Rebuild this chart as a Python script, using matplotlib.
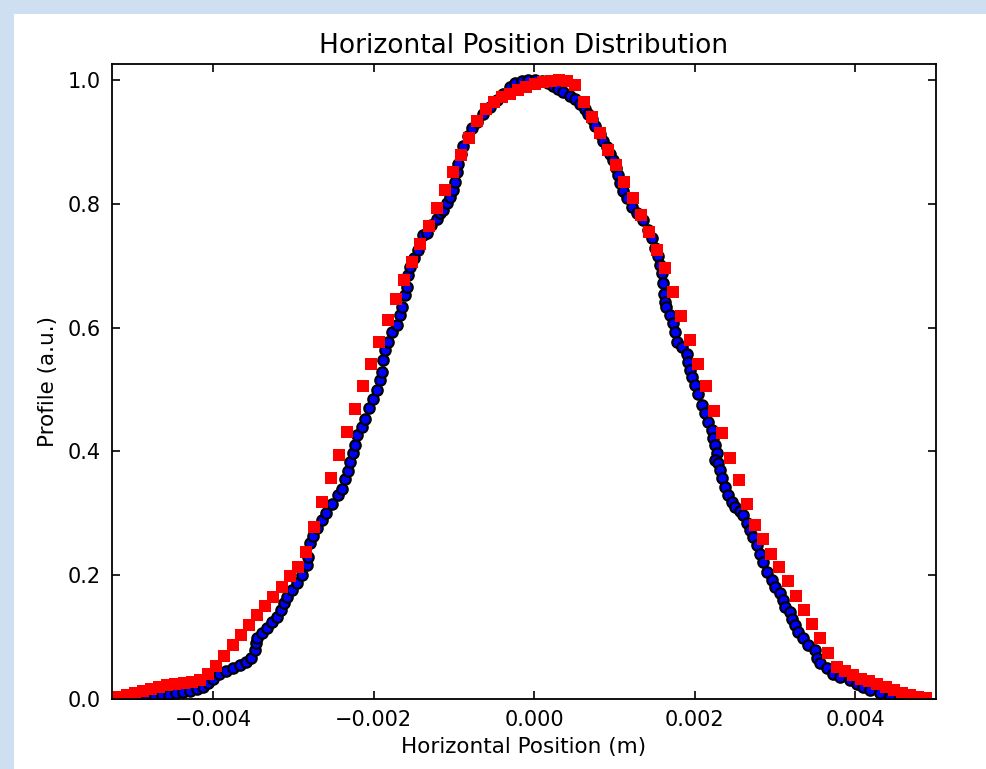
import numpy as np
import matplotlib
matplotlib.use('Agg')
import matplotlib.pyplot as plt
from matplotlib.patches import Rectangle

# measured profile (blue), position in mm
meas_x_mm = [-5.159, -5.072, -4.984, -4.897, -4.810, -4.723, -4.636, -4.548, -4.461, -4.374,
             -4.287, -4.199, -4.125, -4.062, -4.000, -3.925, -3.838, -3.751, -3.664, -3.589,
             -3.526, -3.477, -3.464, -3.452, -3.389, -3.327, -3.265, -3.202, -3.153, -3.115,
             -3.078, -3.016, -2.953, -2.891, -2.835, -2.812, -2.791, -2.750, -2.708, -2.645,
             -2.592, -2.521, -2.439, -2.396, -2.355, -2.321, -2.293, -2.252, -2.231, -2.202,
             -2.147, -2.106, -2.052, -2.002, -1.960, -1.919, -1.898, -1.878, -1.857, -1.816,
             -1.773, -1.711, -1.670, -1.649, -1.607, -1.586, -1.566, -1.545, -1.495, -1.442,
             -1.379, -1.337, -1.283, -1.212, -1.171, -1.130, -1.088, -1.047, -1.006, -0.984,
             -0.963, -0.943, -0.913, -0.881, -0.819, -0.776, -0.714, -0.632, -0.548, -0.465,
             -0.383, -0.299, -0.237, -0.153, -0.075, 0.012, 0.096, 0.178, 0.240, 0.303,
             0.365, 0.449, 0.511, 0.573, 0.636, 0.677, 0.719, 0.760, 0.822, 0.864,
             0.906, 0.947, 0.988, 1.022, 1.050, 1.072, 1.113, 1.155, 1.217, 1.280,
             1.362, 1.424, 1.467, 1.508, 1.549, 1.570, 1.591, 1.611, 1.615, 1.632,
             1.640, 1.695, 1.736, 1.757, 1.778, 1.840, 1.903, 1.923, 1.944, 1.965,
             2.006, 2.047, 2.090, 2.131, 2.172, 2.214, 2.234, 2.255, 2.277, 2.260,
             2.297, 2.318, 2.339, 2.380, 2.421, 2.464, 2.505, 2.567, 2.608, 2.650,
             2.692, 2.733, 2.775, 2.816, 2.857, 2.900, 2.962, 3.003, 3.065, 3.107,
             3.128, 3.190, 3.211, 3.252, 3.293, 3.356, 3.418, 3.502, 3.523, 3.564,
             3.647, 3.730, 3.813, 3.938, 4.021, 4.103, 4.187, 4.312, 4.436, 4.561,
             4.685, 4.810]
meas_y = [0.000, 0.001, 0.002, 0.003, 0.004, 0.005, 0.006, 0.007, 0.009, 0.011,
          0.013, 0.016, 0.020, 0.026, 0.033, 0.040, 0.046, 0.050, 0.055, 0.060,
          0.067, 0.079, 0.090, 0.099, 0.106, 0.114, 0.124, 0.133, 0.144, 0.155,
          0.165, 0.176, 0.187, 0.200, 0.216, 0.230, 0.252, 0.263, 0.276, 0.289,
          0.301, 0.315, 0.330, 0.340, 0.355, 0.369, 0.383, 0.398, 0.410, 0.426,
          0.440, 0.453, 0.470, 0.484, 0.500, 0.515, 0.529, 0.548, 0.564, 0.577,
          0.593, 0.604, 0.620, 0.634, 0.653, 0.666, 0.685, 0.698, 0.712, 0.725,
          0.750, 0.753, 0.765, 0.776, 0.785, 0.790, 0.801, 0.811, 0.822, 0.836,
          0.851, 0.865, 0.880, 0.894, 0.909, 0.923, 0.933, 0.945, 0.956, 0.967,
          0.978, 0.988, 0.995, 0.999, 1.000, 1.000, 0.998, 0.995, 0.990, 0.985,
          0.980, 0.975, 0.969, 0.961, 0.953, 0.945, 0.937, 0.926, 0.913, 0.902,
          0.891, 0.881, 0.870, 0.858, 0.846, 0.833, 0.820, 0.809, 0.795, 0.785,
          0.774, 0.758, 0.744, 0.728, 0.715, 0.701, 0.688, 0.672, 0.655, 0.642,
          0.634, 0.620, 0.607, 0.593, 0.577, 0.569, 0.558, 0.545, 0.532, 0.521,
          0.507, 0.493, 0.475, 0.462, 0.448, 0.435, 0.421, 0.410, 0.397, 0.386,
          0.381, 0.370, 0.357, 0.343, 0.330, 0.319, 0.311, 0.303, 0.297, 0.284,
          0.273, 0.262, 0.249, 0.235, 0.222, 0.206, 0.192, 0.181, 0.171, 0.160,
          0.149, 0.141, 0.130, 0.120, 0.109, 0.098, 0.087, 0.079, 0.066, 0.058,
          0.050, 0.041, 0.036, 0.031, 0.025, 0.020, 0.015, 0.009, 0.004, 0.001,
          0.000, 0.000]

# model profile (red squares), position in mm
model_x_mm = [-5.180, -5.078, -4.977, -4.875, -4.773, -4.672, -4.570, -4.468, -4.366, -4.265,
              -4.163, -4.061, -3.960, -3.858, -3.756, -3.655, -3.553, -3.451, -3.349, -3.248,
              -3.146, -3.044, -2.943, -2.841, -2.739, -2.638, -2.536, -2.434, -2.332, -2.231,
              -2.129, -2.027, -1.926, -1.824, -1.722, -1.621, -1.519, -1.417, -1.315, -1.214,
              -1.112, -1.010, -0.909, -0.807, -0.705, -0.604, -0.502, -0.400, -0.298, -0.197,
              -0.095, 0.007, 0.108, 0.210, 0.312, 0.413, 0.515, 0.617, 0.719, 0.820,
              0.922, 1.024, 1.125, 1.227, 1.329, 1.430, 1.532, 1.634, 1.736, 1.837,
              1.939, 2.041, 2.142, 2.244, 2.346, 2.447, 2.549, 2.651, 2.753, 2.854,
              2.956, 3.058, 3.159, 3.261, 3.363, 3.464, 3.566, 3.668, 3.770, 3.871,
              3.973, 4.075, 4.176, 4.278, 4.380, 4.481, 4.583, 4.685, 4.787, 4.888]
model_y = [0.004, 0.007, 0.010, 0.013, 0.016, 0.019, 0.022, 0.024, 0.026, 0.028,
           0.031, 0.040, 0.054, 0.070, 0.087, 0.103, 0.119, 0.136, 0.151, 0.165,
           0.181, 0.198, 0.213, 0.238, 0.278, 0.318, 0.357, 0.394, 0.432, 0.468,
           0.505, 0.541, 0.577, 0.612, 0.646, 0.677, 0.706, 0.735, 0.764, 0.793,
           0.823, 0.852, 0.879, 0.906, 0.934, 0.954, 0.965, 0.973, 0.978, 0.984,
           0.989, 0.994, 0.997, 0.999, 1.000, 0.999, 0.992, 0.965, 0.940, 0.914,
           0.887, 0.862, 0.836, 0.809, 0.782, 0.755, 0.726, 0.696, 0.657, 0.619,
           0.580, 0.542, 0.505, 0.466, 0.429, 0.390, 0.354, 0.315, 0.281, 0.258,
           0.235, 0.213, 0.190, 0.166, 0.144, 0.121, 0.098, 0.075, 0.052, 0.045,
           0.039, 0.033, 0.029, 0.024, 0.020, 0.015, 0.010, 0.006, 0.004, 0.001]

meas_x = np.array(meas_x_mm) * 1e-3
model_x = np.array(model_x_mm) * 1e-3

fig = plt.figure(figsize=(9.86, 7.69), dpi=100)
fig.patch.set_facecolor('#cddff0')
# white page area inside the light blue frame
fig.patches.append(Rectangle((14/986, 0), 1, 1 - 14/769, transform=fig.transFigure,
                             facecolor='white', edgecolor='none', zorder=-10))

ax = fig.add_axes([0.1136, 0.0910, 0.8357, 0.8257])
ax.scatter(meas_x, meas_y, s=56, c='b', edgecolors='k', linewidths=1.6, zorder=1)
ax.plot(model_x, model_y, 'rs', markersize=8, markeredgewidth=0, zorder=2)

ax.set_xlim(-0.005259, 0.005009)
ax.set_ylim(0, 1.0258)
ax.set_xticks([-0.004, -0.002, 0.0, 0.002, 0.004])
ax.set_yticks([0.0, 0.2, 0.4, 0.6, 0.8, 1.0])
ax.tick_params(direction='in', top=True, right=True, length=6, width=1.2,
               labelsize=15, pad=8, colors='black')
for sp in ax.spines.values():
    sp.set_linewidth(1.3)

ax.set_title("Horizontal Position Distribution", fontsize=19, pad=8)
ax.set_xlabel("Horizontal Position (m)", fontsize=15.5, labelpad=5)
ax.set_ylabel("Profile (a.u.)", fontsize=15.5, labelpad=7)

fig.savefig('out.png', dpi=100, facecolor=fig.get_facecolor())
